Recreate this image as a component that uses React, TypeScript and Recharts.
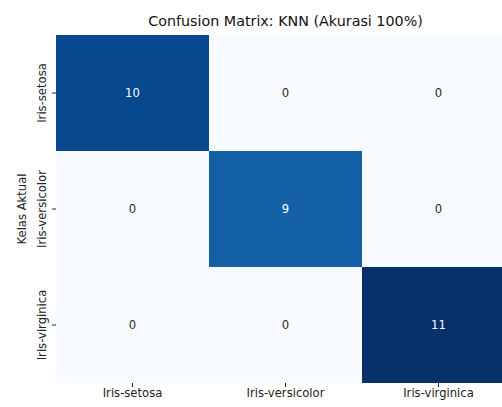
import React from 'react';
import { BarChart, Bar, XAxis, YAxis, Cell, LabelList } from 'recharts';

// classes (rows = actual, columns = predicted)
const CLASSES = ['Iris-setosa', 'Iris-versicolor', 'Iris-virginica'];
const ACTUAL_SETOSA = [10, 0, 0];
const ACTUAL_VERSICOLOR = [0, 9, 0];
const ACTUAL_VIRGINICA = [0, 0, 11];
const MATRIX = [ACTUAL_SETOSA, ACTUAL_VERSICOLOR, ACTUAL_VIRGINICA];

const TITLE = 'Confusion Matrix: KNN (Akurasi 100%)';
const Y_LABEL = 'Kelas Aktual';

const FONT = '"DejaVu Sans", sans-serif';
const FS = 11.6;

// matplotlib "Blues"
const BLUES = ['#f7fbff', '#deebf7', '#c6dbef', '#9ecae1', '#6baed6', '#4292c6', '#2171b5', '#08519c', '#08306b'];
const VMAX = Math.max(...MATRIX.flat());

function hex(c: string) {
  return [1, 3, 5].map((i) => parseInt(c.slice(i, i + 2), 16));
}

function blues(v: number) {
  const t = Math.min(1, Math.max(0, v / VMAX)) * (BLUES.length - 1);
  const i = Math.min(BLUES.length - 2, Math.floor(t));
  const f = t - i;
  const a = hex(BLUES[i]);
  const b = hex(BLUES[i + 1]);
  const rgb = a.map((x, k) => Math.round(x + (b[k] - x) * f));
  return `rgb(${rgb.join(',')})`;
}

// one row per predicted class; every actual class is a stacked band of height 1
const data = CLASSES.map((pred, j) => {
  const row: Record<string, string | number> = { pred };
  MATRIX.forEach((r, i) => {
    row[`band${i}`] = 1;
    row[`n${i}`] = r[j];
  });
  return row;
});

const rowLabel = (v: number) => CLASSES[CLASSES.length - 1 - Math.floor(v)];

const YTick = (props: any) => {
  const { x, y, payload } = props;
  return (
    <text
      x={x - 10}
      y={y}
      transform={`rotate(-90 ${x - 10} ${y})`}
      textAnchor="middle"
      dominantBaseline="central"
      fontSize={FS}
      fontFamily={FONT}
      fill="#222"
    >
      {rowLabel(payload.value)}
    </text>
  );
};

const CellText = (props: any) => {
  const { x, y, width, height, value } = props;
  return (
    <text
      x={x + width / 2}
      y={y + height / 2}
      textAnchor="middle"
      dominantBaseline="central"
      fontSize={FS}
      fontFamily={FONT}
      fill={value / VMAX > 0.5 ? '#ffffff' : '#262626'}
    >
      {value}
    </text>
  );
};

export default function App() {
  // bottom band first: last class sits at the bottom
  const order = CLASSES.map((_, i) => i).reverse();

  return (
    <div
      style={{
        position: 'fixed',
        left: 0,
        top: 0,
        width: 502,
        height: 407,
        overflow: 'hidden',
        background: '#fff',
      }}
    >
      <div
        style={{
          position: 'absolute',
          left: 0,
          top: 13,
          width: 571,
          textAlign: 'center',
          fontFamily: FONT,
          fontSize: 14.3,
          lineHeight: '17px',
          color: '#111',
        }}
      >
        {TITLE}
      </div>
      <BarChart
        width={520}
        height={407}
        data={data}
        margin={{ top: 35, right: 5, bottom: 0, left: 16 }}
        barCategoryGap={0}
        barGap={0}
      >
        <XAxis
          dataKey="pred"
          height={24}
          axisLine={false}
          tickSize={4}
          tickMargin={2}
          tickLine={{ stroke: '#222' }}
          tick={{ fontSize: FS, fontFamily: FONT, fill: '#222' }}
          interval={0}
        />
        <YAxis
          type="number"
          domain={[0, CLASSES.length]}
          ticks={CLASSES.map((_, i) => i + 0.5)}
          width={40}
          axisLine={false}
          tickSize={4}
          tickMargin={0}
          tickLine={{ stroke: '#222' }}
          tick={<YTick />}
          label={{
            content: (p: any) => {
              const vb = p.viewBox;
              const cx = vb.x + 6;
              const cy = vb.y + vb.height / 2;
              return (
                <text
                  x={cx}
                  y={cy}
                  transform={`rotate(-90 ${cx} ${cy})`}
                  textAnchor="middle"
                  dominantBaseline="central"
                  fontSize={FS}
                  fontFamily={FONT}
                  fill="#222"
                >
                  {Y_LABEL}
                </text>
              );
            },
          }}
        />
        {order.map((i) => (
          <Bar key={i} dataKey={`band${i}`} stackId="m" isAnimationActive={false}>
            {data.map((d, j) => (
              <Cell key={j} fill={blues(Number(d[`n${i}`]))} />
            ))}
            <LabelList dataKey={`n${i}`} content={<CellText />} />
          </Bar>
        ))}
      </BarChart>
    </div>
  );
}
